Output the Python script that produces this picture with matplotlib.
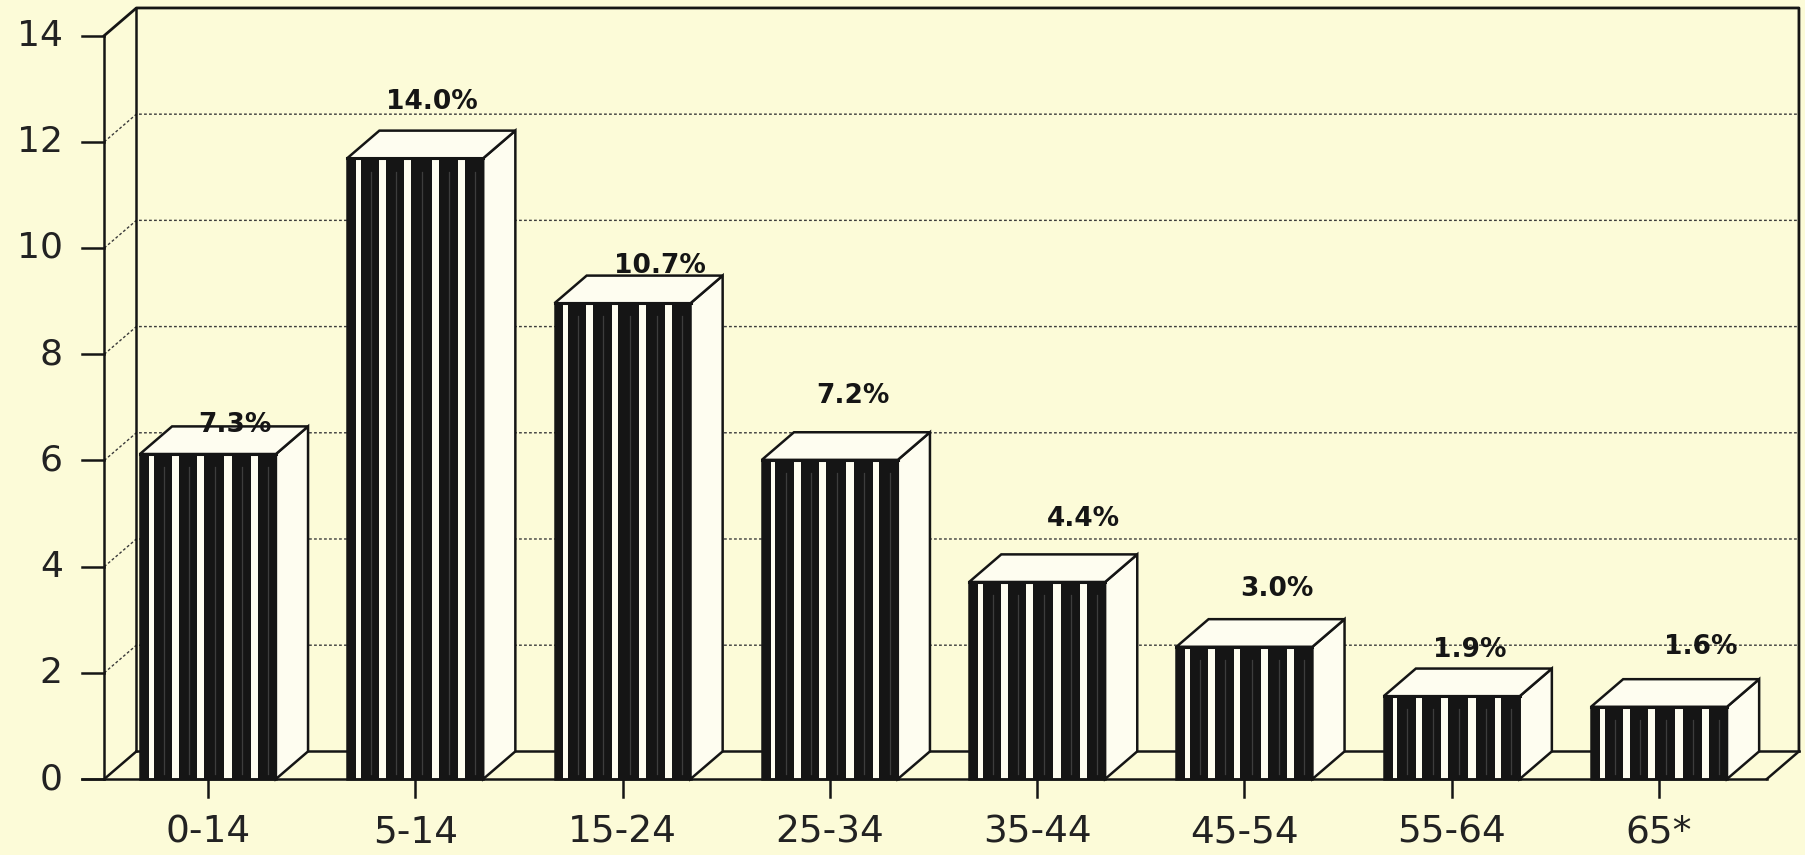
import matplotlib.pyplot as plt

# Age groups, bar heights on the axis scale, and the percentage printed over each bar
groups = ['0-14', '5-14', '15-24', '25-34', '35-44', '45-54', '55-64', '65*']
heights = [6.12, 11.69, 8.96, 6.01, 3.71, 2.49, 1.56, 1.36]
pct_labels = ['7.3%', '14.0%', '10.7%', '7.2%', '4.4%', '3.0%', '1.9%', '1.6%']
yticks = [0, 2, 4, 6, 8, 10, 12, 14]

# pseudo-3D look: depth offset of the back plane (data units)
DX, DY = 0.155, 0.52
W = 0.656          # front face width
BG = '#fcfbd8'
FACE = '#fefdf0'
INK = '#151515'

# where the percentage text sits relative to each bar (pixels)
label_dx = [27, 17, 37, 23, 46, 32, 18, 42]
label_gap = [-6, 22, 3, 29, 28, 23, 12, 25]

# stripe layout across a front face (fractions of width)
stripes = [(0.0, 0.065), (0.10, 0.235), (0.285, 0.42), (0.47, 0.62),
           (0.675, 0.815), (0.865, 1.0)]

plt.rcParams['font.family'] = ['DejaVu Sans']

fig = plt.figure(figsize=(18.06, 8.55), dpi=100)
fig.patch.set_facecolor(BG)
ax = fig.add_axes([0, 0, 1, 1])
ax.set_facecolor(BG)
ax.set_xlim(-1.003, 7.709)
ax.set_ylim(-1.431, 14.67)
ax.axis('off')

x = list(range(len(groups)))
x0, x1 = -0.5, 7.52          # front floor edge
bx0, bx1 = x0 + DX, x1 + DX

# back wall gridlines and dotted diagonals on the left
for v in yticks[1:-1]:
    ax.plot([x0, bx0, bx1], [v, v + DY, v + DY], color='#3a3a3a', lw=1.0,
            ls=(0, (2, 1.6)), zorder=1)

# wall outline
ax.plot([x0, bx0, bx1, bx1], [14, 14 + DY, 14 + DY, DY], color=INK, lw=2, zorder=1)
ax.plot([bx0, bx0], [DY, 14 + DY], color=INK, lw=1.8, zorder=1)
ax.plot([bx0, bx1], [DY, DY], color=INK, lw=1.8, zorder=1)
ax.plot([x0, bx0], [0, DY], color=INK, lw=1.8, zorder=1)
ax.plot([x1, bx1], [0, DY], color=INK, lw=1.8, zorder=1)

# front value axis with ticks
ax.plot([x0, x0], [0, 14], color=INK, lw=1.8, zorder=1)
for v in yticks:
    ax.plot([x0 - 0.106, x0], [v, v], color=INK, lw=1.8, zorder=1)
    ax.text(x0 - 0.20, v, str(v), ha='right', va='center', fontsize=26, color='#222222')

# floor front edge and category ticks
ax.plot([x0 - 0.106, x1], [0, 0], color=INK, lw=1.8, zorder=5)
for xi, g in zip(x, groups):
    ax.plot([xi, xi], [0, -0.34], color=INK, lw=1.8, zorder=5)
    ax.text(xi, -1.0, g, ha='center', va='center', fontsize=27, color='#222222')

# bars: front face, stripes, side and top faces
ax.bar(x, heights, width=W, color=FACE, edgecolor=INK, linewidth=1.8, zorder=3)
for s0, s1 in stripes:
    ax.bar([xi - W / 2 + s0 * W for xi in x], heights, width=(s1 - s0) * W,
           align='edge', color=INK, linewidth=0, zorder=3.1)
    # faint lighter streaks inside the dark stripes
    if s1 - s0 > 0.1:
        for xi, h in zip(x, heights):
            xm = xi - W / 2 + (s0 + 0.55 * (s1 - s0)) * W
            ax.plot([xm, xm], [0.1, h - 0.25], color='#8a8a8a', lw=0.9, alpha=0.35, zorder=3.2)

for xi, h in zip(x, heights):
    l, r = xi - W / 2, xi + W / 2
    ax.fill([r, r + DX, r + DX, r], [0, DY, h + DY, h], facecolor=FACE,
            edgecolor=INK, lw=1.8, zorder=3.3)
    ax.fill([l, r, r + DX, l + DX], [h, h, h + DY, h + DY], facecolor=FACE,
            edgecolor=INK, lw=1.8, zorder=3.3)
    ax.plot([l, r], [h, h], color=INK, lw=2.2, zorder=3.4)

# percentage labels
for xi, h, t, dxp, gp in zip(x, heights, pct_labels, label_dx, label_gap):
    ax.annotate(t, xy=(xi, h + DY), xytext=(dxp * 0.72, gp * 0.72),
                textcoords='offset points', ha='center', va='baseline',
                fontsize=19, fontweight='bold', color=INK, zorder=6)

fig.savefig('out.png', dpi=100, facecolor=BG)
